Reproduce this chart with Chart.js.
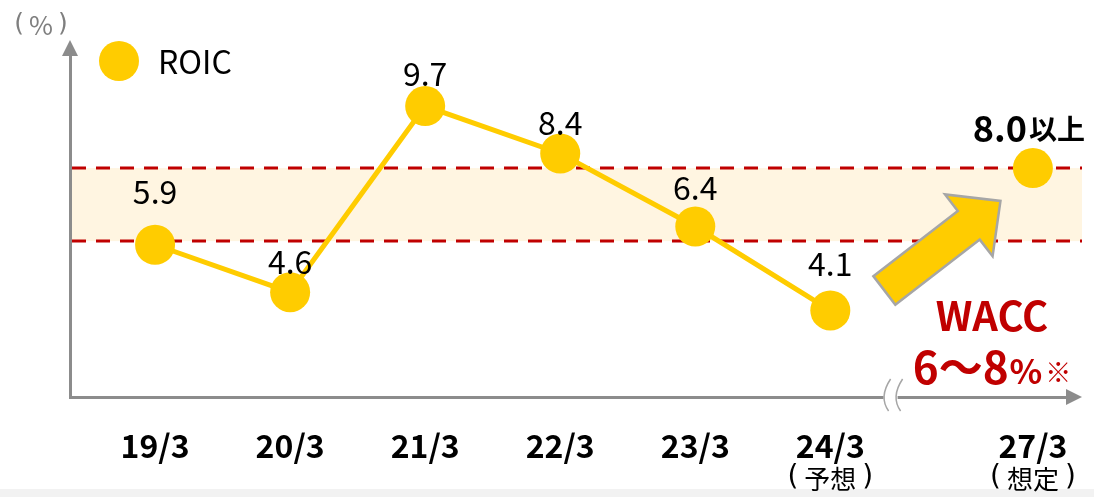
<!DOCTYPE html>
<html>
<head>
<meta charset="utf-8">
<script src="https://cdn.jsdelivr.net/npm/chart.js@4"></script>
<style>
  html, body { margin: 0; padding: 0; background: #fff; }
  #wrap { width: 1094px; height: 497px; }
</style>
</head>
<body>
<div id="wrap"><canvas id="roic-chart"></canvas></div>
<script>
// data
var periods = ['19/3', '20/3', '21/3', '22/3', '23/3', '24/3', '27/3'];
var periodNotes = ['', '', '', '', '', '予想', '想定'];
var periodPos = [0, 1, 2, 3, 4, 5, 6.5];   // axis is broken before 27/3
var roic = [5.9, 4.6, 9.7, 8.4, 6.4, 4.1];
var roicTarget = 8.0;
var waccLow = 6;
var waccHigh = 8;

// styling
var yellow = '#FFCC00';
var red = '#C00000';
var grey = '#8C8C8C';
var font = '"Noto Sans CJK JP", "Noto Sans", sans-serif';
var labelLift = [53, 30, 32, 31, 39, 47];

var ctx = document.getElementById('roic-chart').getContext('2d');

// text wrapped in tall thin brackets, centred on cx
function bracketText(c, text, cx, cy, size, psize, gap) {
    c.font = psize + 'px "DejaVu Sans", sans-serif';
    var wb = c.measureText('(').width;
    c.font = size + 'px ' + font;
    var wt = c.measureText(text).width;
    var total = wb * 2 + wt + gap * 2;
    var sx = cx - total / 2;
    c.textAlign = 'left';
    c.fillText(text, sx + wb + gap, cy);
    c.font = psize + 'px "DejaVu Sans", sans-serif';
    c.fillText('(', sx, cy - 1);
    c.fillText(')', sx + wb + gap * 2 + wt, cy - 1);
}

var decor = {
    id: 'decor',
    beforeDraw: function(chart) {
        var c = chart.ctx;
        c.save();
        c.fillStyle = '#F2F2F2';
        c.fillRect(0, 489, chart.width, 8);
        c.restore();
    },
    beforeDatasetsDraw: function(chart) {
        var c = chart.ctx, a = chart.chartArea;
        var y = chart.scales.y;
        var top = y.getPixelForValue(waccHigh), bot = y.getPixelForValue(waccLow);
        var right = a.right + 14;
        c.save();
        c.fillStyle = '#FFF5E1';
        c.fillRect(a.left + 2, top, right - a.left - 2, bot - top);
        c.strokeStyle = red;
        c.lineWidth = 3;
        c.setLineDash([14, 10]);
        [top, bot].forEach(function(py) {
            c.beginPath();
            c.moveTo(a.left + 2, py);
            c.lineTo(right, py);
            c.stroke();
        });
        c.restore();
    },
    afterDatasetsDraw: function(chart) {
        var c = chart.ctx, a = chart.chartArea;
        var x = chart.scales.x, y = chart.scales.y;
        c.save();

        // axis arrow heads
        c.fillStyle = grey;
        c.beginPath();
        c.moveTo(a.left, a.top - 12);
        c.lineTo(a.left - 8, a.top + 4);
        c.lineTo(a.left + 8, a.top + 4);
        c.closePath();
        c.fill();
        c.beginPath();
        c.moveTo(a.right + 14, a.bottom);
        c.lineTo(a.right - 2, a.bottom - 8);
        c.lineTo(a.right - 2, a.bottom + 8);
        c.closePath();
        c.fill();

        // axis break
        var bx = (x.getPixelForValue(5) + x.getPixelForValue(6.5)) / 2 - 46;
        c.fillStyle = '#fff';
        c.fillRect(bx - 2, a.bottom - 3, 14, 6);
        c.strokeStyle = '#A6A6A6';
        c.lineWidth = 1.5;
        [bx, bx + 12].forEach(function(px) {
            c.beginPath();
            c.moveTo(px + 5, a.bottom - 18);
            c.quadraticCurveTo(px - 7, a.bottom, px + 3, a.bottom + 14);
            c.stroke();
        });

        // value labels
        c.fillStyle = '#000';
        c.textAlign = 'center';
        c.textBaseline = 'middle';
        c.font = '32px ' + font;
        roic.forEach(function(v, i) {
            var px = x.getPixelForValue(periodPos[i]);
            var py = y.getPixelForValue(v);
            c.fillText(v.toFixed(1), px, py - labelLift[i]);
        });
        var tx = x.getPixelForValue(periodPos[6]);
        var ty = y.getPixelForValue(roicTarget) - 40;
        c.font = 'bold 36px ' + font;
        var w1 = c.measureText(roicTarget.toFixed(1)).width;
        c.font = 'bold 28px ' + font;
        var w2 = c.measureText('以上').width;
        var sx = tx - (w1 + w2 + 2) / 2 - 4;
        c.textAlign = 'left';
        c.font = 'bold 36px ' + font;
        c.fillText(roicTarget.toFixed(1), sx, ty);
        c.font = 'bold 28px ' + font;
        c.fillText('以上', sx + w1 + 2, ty + 1);

        // period notes under ticks
        c.fillStyle = '#000';
        periodNotes.forEach(function(n, i) {
            if (n) bracketText(c, n, x.getPixelForValue(periodPos[i]), 479, 26, 28, 6);
        });

        // unit + legend
        c.fillStyle = '#7F7F7F';
        bracketText(c, '%', 41, 25, 26, 25, 5);
        c.fillStyle = yellow;
        c.beginPath();
        c.arc(119, 61, 20, 0, Math.PI * 2);
        c.fill();
        c.fillStyle = '#000';
        c.textAlign = 'left';
        c.font = '32px ' + font;
        c.fillText('ROIC', 158, 62);

        // big arrow toward the target
        var t0 = { x: x.getPixelForValue(5.4), y: y.getPixelForValue(4.65) };
        var t1 = { x: x.getPixelForValue(6.26), y: y.getPixelForValue(7.1) };
        var dx = t1.x - t0.x, dy = t1.y - t0.y, len = Math.sqrt(dx * dx + dy * dy);
        var ux = dx / len, uy = dy / len, nx = -uy, ny = ux;
        var head = 40, sw = 18, hw = 39;
        var bxp = t1.x - ux * head, byp = t1.y - uy * head;
        c.beginPath();
        c.moveTo(t0.x + nx * sw, t0.y + ny * sw);
        c.lineTo(bxp + nx * sw, byp + ny * sw);
        c.lineTo(bxp + nx * hw, byp + ny * hw);
        c.lineTo(t1.x, t1.y);
        c.lineTo(bxp - nx * hw, byp - ny * hw);
        c.lineTo(bxp - nx * sw, byp - ny * sw);
        c.lineTo(t0.x - nx * sw, t0.y - ny * sw);
        c.closePath();
        c.fillStyle = yellow;
        c.fill();
        c.strokeStyle = '#A6A6A6';
        c.lineWidth = 2.5;
        c.stroke();

        // WACC note
        c.fillStyle = red;
        c.textAlign = 'center';
        c.font = 'bold 40px ' + font;
        c.fillText('WACC', 992, 316);
        c.textAlign = 'left';
        c.font = 'bold 44px ' + font;
        var s1 = waccLow + '～' + waccHigh;
        var ws1 = c.measureText(s1).width;
        c.font = 'bold 34px ' + font;
        var ws2 = c.measureText('%').width;
        c.font = '26px ' + font;
        var ws3 = c.measureText('※').width;
        var wx = 992 - (ws1 + ws2 + ws3 + 4) / 2;
        c.font = 'bold 44px ' + font;
        c.fillText(s1, wx, 367);
        c.font = 'bold 34px ' + font;
        c.fillText('%', wx + ws1 + 1, 371);
        c.font = '26px ' + font;
        c.fillText('※', wx + ws1 + ws2 + 4, 372);

        c.restore();
    }
};

var roicChart = new Chart(ctx, {
    type: 'line',
    data: {
        datasets: [{
            label: 'ROIC',
            data: roic.map(function(v, i) { return { x: periodPos[i], y: v }; }),
            borderColor: yellow,
            backgroundColor: yellow,
            borderWidth: 5,
            pointRadius: 20,
            pointHoverRadius: 20,
            pointBorderWidth: 0
        }, {
            label: 'target',
            data: [{ x: periodPos[6], y: roicTarget }],
            showLine: false,
            backgroundColor: yellow,
            borderColor: yellow,
            pointRadius: 20,
            pointHoverRadius: 20,
            pointBorderWidth: 0
        }]
    },
    options: {
        responsive: true,
        maintainAspectRatio: false,
        animation: false,
        layout: { padding: { top: 52, right: 26, left: 0, bottom: 0 } },
        plugins: { legend: { display: false }, tooltip: { enabled: false } },
        scales: {
            x: {
                type: 'linear',
                min: -0.63,
                max: 6.76,
                grid: { display: false },
                border: { display: true, color: grey, width: 3 },
                afterBuildTicks: function(scale) {
                    scale.ticks = periodPos.map(function(p) { return { value: p }; });
                },
                afterFit: function(scale) { scale.height = 100; },
                ticks: {
                    padding: 22,
                    color: '#000',
                    font: { family: font, size: 32, weight: 'bold' },
                    callback: function(value) {
                        var i = periodPos.indexOf(value);
                        return i >= 0 ? periods[i] : '';
                    }
                }
            },
            y: {
                min: 1.73,
                max: 11.18,
                grid: { display: false },
                border: { display: true, color: grey, width: 3 },
                ticks: { display: false },
                afterFit: function(scale) { scale.width = 70; }
            }
        }
    },
    plugins: [decor]
});
</script>
</body>
</html>
